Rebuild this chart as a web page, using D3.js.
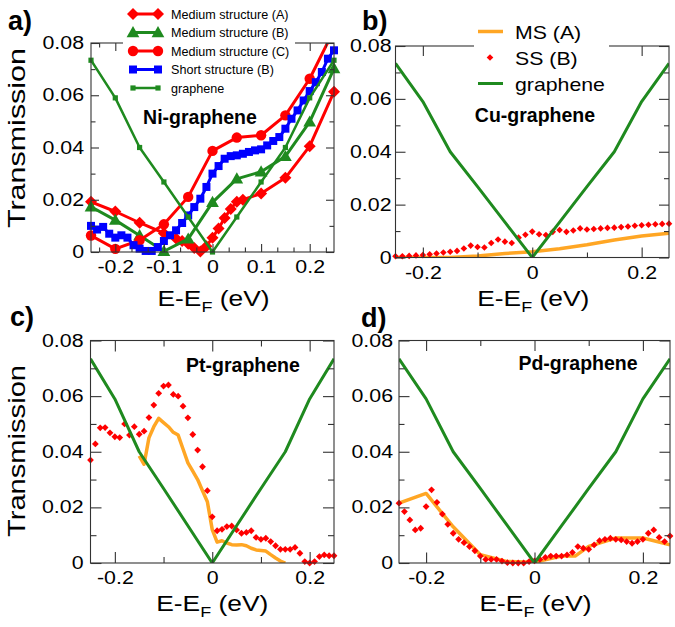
<!DOCTYPE html>
<html>
<head>
<meta charset="utf-8"/>
<title>Transmission</title>
<style>
  body { margin: 0; background: #fff; }
  svg { display: block; font-family: "Liberation Sans", Arial, sans-serif; }
</style>
</head>
<body>
<div id="fig"></div>
<script src="https://cdn.jsdelivr.net/npm/d3@7/dist/d3.min.js"></script>
<script>
// ---- data ----
// energy grids used by the calculations
var eStep05 = [-0.25,-0.2,-0.15,-0.1,-0.05,0,0.05,0.1,0.15,0.2,0.25];
var eStep0125 = [-0.25,-0.2375,-0.225,-0.2125,-0.2,-0.1875,-0.175,-0.1625,-0.15,-0.1375,-0.125,-0.1125,-0.1,-0.0875,-0.075,-0.0625,-0.05,-0.0375,-0.025,-0.0125,0,0.0125,0.025,0.0375,0.05,0.0625,0.075,0.0875,0.1,0.1125,0.125,0.1375,0.15,0.1625,0.175,0.1875,0.2,0.2125,0.225,0.2375,0.25];
var eStep01 = [-0.25,-0.24,-0.23,-0.22,-0.21,-0.2,-0.19,-0.18,-0.17,-0.16,-0.15,-0.14,-0.13,-0.12,-0.11,-0.1,-0.09,-0.08,-0.07,-0.06,-0.05,-0.04,-0.03,-0.02,-0.01,0,0.01,0.02,0.03,0.04,0.05,0.06,0.07,0.08,0.09,0.1,0.11,0.12,0.13,0.14,0.15,0.16,0.17,0.18,0.19,0.2,0.21,0.22,0.23,0.24,0.25];

// pristine graphene
var grapheneT = [0.0734,0.059,0.040,0.0268,0.0134,0,0.0134,0.0268,0.040,0.059,0.0734];

// a) Ni-graphene
var niMedA_E = [-0.25,-0.2,-0.15,-0.1,-0.075,-0.0625,-0.05,-0.0375,-0.025,-0.0125,0,0.0125,0.025,0.0375,0.05,0.0625,0.1,0.15,0.2,0.25];
var niMedA_T = [0.0192,0.0155,0.0112,0.0072,0.0052,0.0042,0.0032,0.0015,0.0002,0.0022,0.0055,0.009,0.013,0.0165,0.0192,0.0200,0.0224,0.0284,0.0405,0.0613];
var niMedB_T = [0.0173,0.0122,0.0063,0.0003,0.005,0.0190,0.0280,0.0307,0.0366,0.0498,0.0702];
var niMedC_T = [0.0063,0.0012,0.0045,0.0106,0.0211,0.0387,0.0438,0.0447,0.0523,0.0663,0.0850];
var niShortB_T = [0.0100,0.0086,0.0096,0.0070,0.0055,0.0064,0.0055,0.0026,0.0013,0.0004,0.0004,0.0019,0.0042,0.0064,0.0083,0.0111,0.0140,0.0172,0.0204,0.0249,0.0300,0.0329,0.0357,0.0367,0.0370,0.0376,0.0383,0.0389,0.0393,0.0408,0.0425,0.0440,0.0472,0.0510,0.0542,0.0580,0.0616,0.0650,0.0689,0.0740,0.0772];

// b) Cu-graphene
var cuMS_T = [0,0,0,0.0006,0.0015,0.0022,0.0033,0.0048,0.0066,0.0081,0.0092];
var cuSS_T = [0.0005,0.0005,0.0006,0.0008,0.0009,0.0012,0.0015,0.0019,0.0022,0.0025,0.0034,0.0045,0.0040,0.0038,0.0055,0.0068,0.0060,0.0055,0.0075,0.0086,0.0098,0.0088,0.0085,0.0097,0.0104,0.0097,0.0102,0.0110,0.0106,0.0108,0.0110,0.0112,0.0113,0.0115,0.0117,0.0120,0.0122,0.0124,0.0126,0.0127,0.0128];

// c) Pt-graphene
var ptMS_E = [-0.15,-0.14,-0.13,-0.12,-0.11,-0.1,-0.09,-0.08,-0.07,-0.06,-0.05,-0.04,-0.03,-0.02,-0.01,0,0.01,0.02,0.03,0.04,0.05,0.06,0.07,0.08,0.09,0.1,0.11,0.12,0.13,0.14,0.15];
var ptMS_T = [0.0385,0.0355,0.045,0.049,0.052,0.0505,0.049,0.047,0.046,0.041,0.036,0.033,0.030,0.026,0.022,0.012,0.0075,0.008,0.0072,0.0066,0.0065,0.0066,0.0062,0.0053,0.0047,0.0045,0.0043,0.003,0.0018,0.0007,0];
var ptSS_T = [0.037,0.0428,0.0486,0.0487,0.0468,0.0454,0.0451,0.050,0.046,0.049,0.0463,0.0474,0.0523,0.0568,0.061,0.0636,0.064,0.0606,0.060,0.0564,0.0522,0.0462,0.0406,0.0346,0.026,0.0166,0.0116,0.0121,0.0131,0.0133,0.0119,0.0107,0.011,0.0116,0.0092,0.0085,0.0089,0.0077,0.0062,0.0049,0.0049,0.0049,0.0056,0.0035,0.0005,0.0,0.0005,0.0023,0.0029,0.0026,0.0026];

// d) Pd-graphene
var pdMS_E = [-0.25,-0.2,-0.15,-0.1,-0.05,0,0.05,0.075,0.1,0.15,0.2,0.25];
var pdMS_T = [0.0215,0.025,0.013,0.003,0.0005,0.0003,0.0025,0.0025,0.006,0.009,0.009,0.0065];
var pdSS_T = [0.0215,0.0185,0.0155,0.0119,0.0125,0.0203,0.0263,0.0218,0.0176,0.0139,0.0107,0.0085,0.0073,0.0059,0.0044,0.0025,0.0013,0.0013,0.0013,0.0007,0.0001,0,0,0,0.0005,0.0008,0.0013,0.002,0.0025,0.0025,0.0025,0.0029,0.0038,0.0059,0.0053,0.0049,0.0065,0.008,0.0085,0.0089,0.0085,0.0083,0.0077,0.0071,0.0077,0.0085,0.0107,0.0119,0.0092,0.0077,0.0097];

// axes
var yMajor = [0,0.02,0.04,0.06,0.08];
var yMinor = [0.01,0.03,0.05,0.07];
var xMajorA = [-0.2,-0.1,0,0.1,0.2];
var xMinorA = [-0.2333,-0.1667,-0.1333,-0.0667,-0.0333,0.0333,0.0667,0.1333,0.1667,0.2333];
var xMajor = [-0.2,0,0.2];
var xMinor = [-0.1,0.1];

var legendA = ["Medium structure (A)","Medium structure (B)","Medium structure (C)","Short structure (B)","graphene"];
var legendB = ["MS (A)","SS (B)","graphene"];

// ---- drawing ----
var W = 675, H = 627;
var RED = "#ff0000", GREEN = "#1f8a1f", BLUE = "#0000ff", ORANGE = "#ffa624", AX = "#333";

var svg = d3.select("#fig").append("svg").attr("width", W).attr("height", H);

var fmt = function(d){ return d === 0 ? "0" : String(Math.round(d*100)/100); };

function zip(E, T){ return E.map(function(e,i){ return [e, T[i]]; }); }

function shape(kind, r){
  if (kind === "diamond") return "M0,"+(-r)+"L"+r+",0L0,"+r+"L"+(-r)+",0Z";
  if (kind === "triangle") return "M0,"+(-r)+"L"+(r*0.98)+","+(r*0.72)+"L"+(-r*0.98)+","+(r*0.72)+"Z";
  if (kind === "square") return "M"+(-r)+","+(-r)+"h"+(2*r)+"v"+(2*r)+"h"+(-2*r)+"Z";
  return "M"+r+",0A"+r+","+r+" 0 1,1 "+(-r)+",0A"+r+","+r+" 0 1,1 "+r+",0Z";
}

function stretch(sel, k){
  sel.each(function(){
    var w = this.getComputedTextLength();
    d3.select(this).attr("textLength", w*k).attr("lengthAdjust","spacingAndGlyphs");
  });
}

function panel(p){
  p.x = d3.scaleLinear().domain([-0.25,0.25]).range([p.x0,p.x1]);
  p.y = d3.scaleLinear().domain([0,0.08]).range([p.y1,p.y0]);
  p.g = svg.append("g");
  p.clip = "clip" + p.id;
  svg.append("clipPath").attr("id", p.clip).append("rect")
    .attr("x", p.x0).attr("y", p.y0).attr("width", p.x1-p.x0).attr("height", p.y1-p.y0);
  p.data = p.g.append("g");
  return p;
}

function axes(p, xMaj, xMin){
  var g = p.g.append("g").attr("color", AX);
  function side(axis, tx, ty, vals, len, labels, pad){
    var a = axis.tickValues(vals).tickSize(-len).tickSizeOuter(0).tickPadding(pad || 0)
      .tickFormat(labels ? fmt : "");
    var s = g.append("g").attr("transform","translate("+tx+","+ty+")").call(a);
    s.select(".domain").remove();
    s.attr("font-family", null).attr("font-size", 17.5);
    s.selectAll("line").attr("stroke-width", 1.1);
    s.selectAll("text").attr("fill", "#000");
    if (labels) stretch(s.selectAll("text"), 1.22);
    return s;
  }
  side(d3.axisBottom(p.x), 0, p.y1, xMaj, p.tMaj, true, 9);
  side(d3.axisBottom(p.x), 0, p.y1, xMin, p.tMin, false);
  side(d3.axisTop(p.x), 0, p.y0, xMaj, p.tMaj, false);
  side(d3.axisTop(p.x), 0, p.y0, xMin, p.tMin, false);
  side(d3.axisLeft(p.y), p.x0, 0, yMajor, p.tMaj, true, p.yPad);
  side(d3.axisLeft(p.y), p.x0, 0, yMinor, p.tMin, false);
  side(d3.axisRight(p.y), p.x1, 0, yMajor, p.tMaj, false);
  side(d3.axisRight(p.y), p.x1, 0, yMinor, p.tMin, false);
  g.append("rect").attr("x", p.x0).attr("y", p.y0).attr("width", p.x1-p.x0).attr("height", p.y1-p.y0)
    .attr("fill","none").attr("stroke", AX).attr("stroke-width", 1.1);

  // x title with subscript
  var xt = p.g.append("text").attr("x", (p.x0+p.x1)/2 + p.xtDx).attr("y", p.xtY)
    .attr("text-anchor","middle").attr("font-size", 22);
  xt.append("tspan").text("E-E");
  xt.append("tspan").attr("dy", 6).attr("font-size", 15).text("F");
  xt.append("tspan").attr("dy", -6).text(" (eV)");
  xt.attr("textLength", 112).attr("lengthAdjust","spacingAndGlyphs");

  if (p.yTitle){
    p.g.append("text").attr("transform","translate("+p.ytX+","+p.ytY+") rotate(-90)")
      .attr("text-anchor","middle").attr("font-size", 24)
      .attr("textLength", p.ytLen).attr("lengthAdjust","spacingAndGlyphs").text("Transmission");
  }
  p.g.append("text").attr("x", p.lx).attr("y", p.ly).attr("font-size", 27).attr("font-weight","bold").text(p.id + ")");
  p.g.append("text").attr("x", p.nx).attr("y", p.ny).attr("font-size", 19.5).attr("font-weight","bold")
    .attr("text-anchor","middle").text(p.name);
}

function line(p, E, T, color, w){
  var ln = d3.line().x(function(d){ return p.x(d[0]); }).y(function(d){ return p.y(d[1]); });
  p.data.append("path").datum(zip(E,T)).attr("d", ln).attr("fill","none")
    .attr("stroke", color).attr("stroke-width", w).attr("stroke-linejoin","round")
    .attr("clip-path","url(#"+p.clip+")");
}

function marks(p, E, T, kind, r, color){
  p.data.append("g").selectAll("path")
    .data(zip(E,T).filter(function(d){ return d[1] <= 0.0801; }))
    .join("path").attr("d", shape(kind, r)).attr("fill", color)
    .attr("transform", function(d){ return "translate("+p.x(d[0])+","+p.y(d[1])+")"; });
}

var pa = panel({id:"a", x0:91, x1:334, y0:43, y1:252, tMaj:8, tMin:4.5, yPad:7,
  xtY:306, xtDx:1, yTitle:true, ytX:25, ytY:138, ytLen:180, lx:8, ly:30, nx:200, ny:124, name:"Ni-graphene"});
var pb = panel({id:"b", x0:395.5, x1:669, y0:46, y1:257.5, tMaj:10, tMin:5, yPad:4,
  xtY:306, xtDx:1, yTitle:false, lx:362, ly:30, nx:535, ny:122, name:"Cu-graphene"});
var pc = panel({id:"c", x0:90.5, x1:334, y0:340.5, y1:563, tMaj:11, tMin:6, yPad:7,
  xtY:611, xtDx:0, yTitle:true, ytX:25, ytY:451, ytLen:172, lx:10, ly:326, nx:243, ny:372, name:"Pt-graphene"});
var pd = panel({id:"d", x0:399, x1:670, y0:340.5, y1:563, tMaj:10.5, tMin:5.5, yPad:6,
  xtY:611, xtDx:1, yTitle:false, lx:361, ly:327, nx:578, ny:370, name:"Pd-graphene"});

// a) Ni
line(pa, niMedA_E, niMedA_T, RED, 3);   marks(pa, niMedA_E, niMedA_T, "diamond", 6, RED);
line(pa, eStep05, niMedB_T, GREEN, 3);  marks(pa, eStep05, niMedB_T, "triangle", 6.5, GREEN);
line(pa, eStep05, niMedC_T, RED, 3);    marks(pa, eStep05, niMedC_T, "circle", 5.2, RED);
line(pa, eStep0125, niShortB_T, BLUE, 3); marks(pa, eStep0125, niShortB_T, "square", 4, BLUE);
line(pa, eStep05, grapheneT, GREEN, 2.5); marks(pa, eStep05, grapheneT, "square", 2.6, GREEN);

// b) Cu
line(pb, eStep05, cuMS_T, ORANGE, 3.5);
marks(pb, eStep0125, cuSS_T, "diamond", 3.3, RED);
line(pb, eStep05, grapheneT, GREEN, 3);

// c) Pt
line(pc, ptMS_E, ptMS_T, ORANGE, 3.5);
marks(pc, eStep01, ptSS_T, "diamond", 3.4, RED);
line(pc, eStep05, grapheneT, GREEN, 3);

// d) Pd
line(pd, pdMS_E, pdMS_T, ORANGE, 3.5);
marks(pd, eStep01, pdSS_T, "diamond", 3.4, RED);
line(pd, eStep05, grapheneT, GREEN, 3);

[pa,pb,pc,pd].forEach(function(p){ axes(p, p === pa ? xMajorA : xMajor, p === pa ? xMinorA : xMinor); });

// legend a) -- opaque box, hides the frame behind it
var legA = svg.append("g");
legA.append("rect").attr("x",123).attr("y",3).attr("width",172).attr("height",94).attr("fill","#fff");
var legKinds = [["diamond",6,RED,3],["triangle",6.5,GREEN,3],["circle",5.2,RED,3],["square",4,BLUE,3],["square",2.6,GREEN,2.5]];
legendA.forEach(function(t,i){
  var y = 14 + i*18.5, k = legKinds[i];
  legA.append("line").attr("x1",133).attr("x2",158).attr("y1",y).attr("y2",y).attr("stroke",k[2]).attr("stroke-width",k[3]);
  [133,158].forEach(function(x){
    legA.append("path").attr("d", shape(k[0],k[1])).attr("fill",k[2]).attr("transform","translate("+x+","+y+")");
  });
  legA.append("text").attr("x",171).attr("y",y+4.5).attr("font-size",12.6).text(t);
});

// legend b)
var legB = svg.append("g");
legB.append("rect").attr("x",474).attr("y",18).attr("width",135).attr("height",78).attr("fill","#fff");
legendB.forEach(function(t,i){
  var y = 31.5 + i*26;
  if (i === 1) legB.append("path").attr("d", shape("diamond",3.3)).attr("fill",RED).attr("transform","translate(490,"+y+")");
  else legB.append("line").attr("x1",478).attr("x2",503).attr("y1",y).attr("y2",y)
    .attr("stroke", i === 0 ? ORANGE : GREEN).attr("stroke-width", i === 0 ? 3.5 : 3);
  var tx = legB.append("text").attr("x",515).attr("y",y+7).attr("font-size",19).text(t);
  stretch(tx, 1.12);
});
</script>
</body>
</html>
